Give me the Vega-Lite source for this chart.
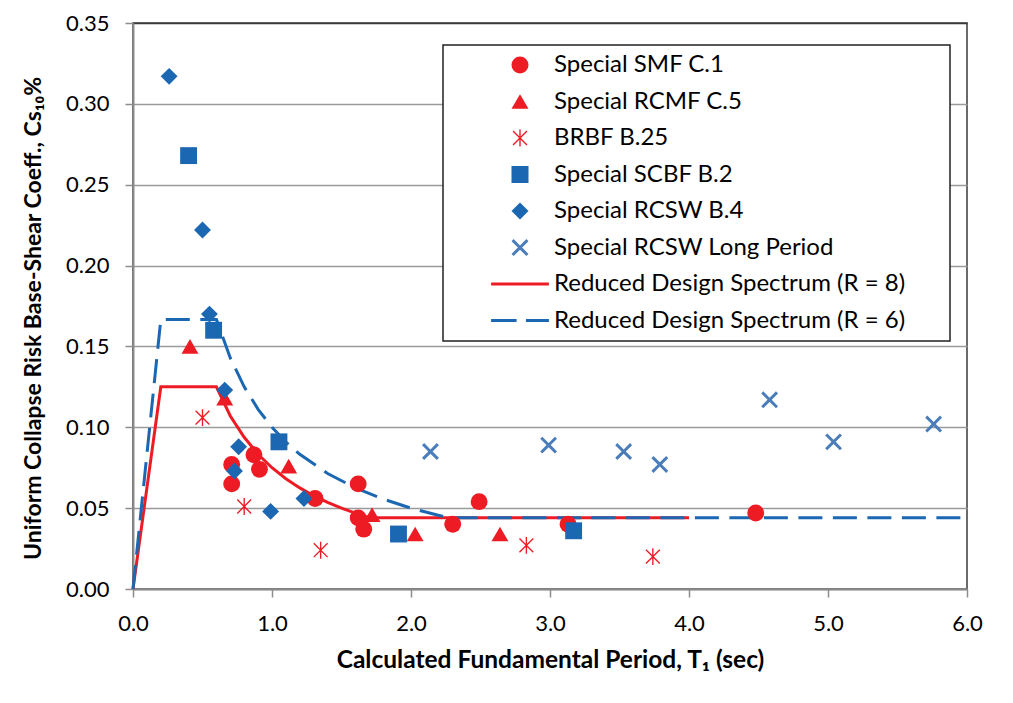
{
  "$schema": "https://vega.github.io/schema/vega-lite/v6.json",
  "width": 834,
  "height": 566,
  "autosize": "none",
  "padding": {"left": 133, "top": 23, "right": 46, "bottom": 114},
  "background": "white",
  "config": {
    "font": "Lato",
    "view": {"stroke": "#3a3a3a", "strokeWidth": 1.5},
    "axis": {
      "labelFont": "Lato",
      "labelFontSize": 22,
      "labelColor": "#000000",
      "labelPadding": 16,
      "labelFlush": false,
      "labelOverlap": false,
      "domainColor": "#8c8c8c",
      "domainWidth": 2,
      "tickColor": "#8c8c8c",
      "tickWidth": 1.5,
      "tickSize": 8,
      "titleFont": "Lato",
      "titleFontWeight": "bold",
      "titleColor": "#000000"
    }
  },
  "datasets": {
    "spectrum": [
      {"series": "Reduced Design Spectrum (R = 8)", "T": 0, "Cs": 0},
      {"series": "Reduced Design Spectrum (R = 8)", "T": 0.2, "Cs": 0.125},
      {"series": "Reduced Design Spectrum (R = 8)", "T": 0.6, "Cs": 0.125},
      {"series": "Reduced Design Spectrum (R = 8)", "T": 0.7, "Cs": 0.107},
      {"series": "Reduced Design Spectrum (R = 8)", "T": 0.8, "Cs": 0.0938},
      {"series": "Reduced Design Spectrum (R = 8)", "T": 0.9, "Cs": 0.0833},
      {"series": "Reduced Design Spectrum (R = 8)", "T": 1.0, "Cs": 0.075},
      {"series": "Reduced Design Spectrum (R = 8)", "T": 1.1, "Cs": 0.0682},
      {"series": "Reduced Design Spectrum (R = 8)", "T": 1.2, "Cs": 0.0625},
      {"series": "Reduced Design Spectrum (R = 8)", "T": 1.3, "Cs": 0.0577},
      {"series": "Reduced Design Spectrum (R = 8)", "T": 1.4, "Cs": 0.0536},
      {"series": "Reduced Design Spectrum (R = 8)", "T": 1.5, "Cs": 0.05},
      {"series": "Reduced Design Spectrum (R = 8)", "T": 1.6, "Cs": 0.0469},
      {"series": "Reduced Design Spectrum (R = 8)", "T": 1.705, "Cs": 0.044},
      {"series": "Reduced Design Spectrum (R = 8)", "T": 4.0, "Cs": 0.044},
      {"series": "Reduced Design Spectrum (R = 6)", "T": 0, "Cs": 0},
      {"series": "Reduced Design Spectrum (R = 6)", "T": 0.2, "Cs": 0.1667},
      {"series": "Reduced Design Spectrum (R = 6)", "T": 0.6, "Cs": 0.1667},
      {"series": "Reduced Design Spectrum (R = 6)", "T": 0.7, "Cs": 0.1429},
      {"series": "Reduced Design Spectrum (R = 6)", "T": 0.8, "Cs": 0.125},
      {"series": "Reduced Design Spectrum (R = 6)", "T": 0.9, "Cs": 0.1111},
      {"series": "Reduced Design Spectrum (R = 6)", "T": 1.0, "Cs": 0.1},
      {"series": "Reduced Design Spectrum (R = 6)", "T": 1.1, "Cs": 0.0909},
      {"series": "Reduced Design Spectrum (R = 6)", "T": 1.2, "Cs": 0.0833},
      {"series": "Reduced Design Spectrum (R = 6)", "T": 1.4, "Cs": 0.0714},
      {"series": "Reduced Design Spectrum (R = 6)", "T": 1.6, "Cs": 0.0625},
      {"series": "Reduced Design Spectrum (R = 6)", "T": 1.8, "Cs": 0.0556},
      {"series": "Reduced Design Spectrum (R = 6)", "T": 2.0, "Cs": 0.05},
      {"series": "Reduced Design Spectrum (R = 6)", "T": 2.27, "Cs": 0.044},
      {"series": "Reduced Design Spectrum (R = 6)", "T": 6.0, "Cs": 0.044}
    ],
    "points": [
      {"series": "Special SMF C.1", "T": 0.71, "Cs": 0.077},
      {"series": "Special SMF C.1", "T": 0.71, "Cs": 0.065},
      {"series": "Special SMF C.1", "T": 0.87, "Cs": 0.083},
      {"series": "Special SMF C.1", "T": 0.91, "Cs": 0.074},
      {"series": "Special SMF C.1", "T": 1.31, "Cs": 0.056},
      {"series": "Special SMF C.1", "T": 1.62, "Cs": 0.065},
      {"series": "Special SMF C.1", "T": 1.62, "Cs": 0.044},
      {"series": "Special SMF C.1", "T": 1.66, "Cs": 0.037},
      {"series": "Special SMF C.1", "T": 2.30, "Cs": 0.040},
      {"series": "Special SMF C.1", "T": 2.49, "Cs": 0.054},
      {"series": "Special SMF C.1", "T": 3.13, "Cs": 0.040},
      {"series": "Special SMF C.1", "T": 4.48, "Cs": 0.047},
      {"series": "Special RCMF C.5", "T": 0.41, "Cs": 0.150},
      {"series": "Special RCMF C.5", "T": 0.66, "Cs": 0.118},
      {"series": "Special RCMF C.5", "T": 1.12, "Cs": 0.076},
      {"series": "Special RCMF C.5", "T": 1.72, "Cs": 0.046},
      {"series": "Special RCMF C.5", "T": 2.03, "Cs": 0.034},
      {"series": "Special RCMF C.5", "T": 2.64, "Cs": 0.034},
      {"series": "BRBF B.25", "T": 0.50, "Cs": 0.106},
      {"series": "BRBF B.25", "T": 0.80, "Cs": 0.051},
      {"series": "BRBF B.25", "T": 1.35, "Cs": 0.024},
      {"series": "BRBF B.25", "T": 2.83, "Cs": 0.027},
      {"series": "BRBF B.25", "T": 3.74, "Cs": 0.020},
      {"series": "Special SCBF B.2", "T": 0.40, "Cs": 0.268},
      {"series": "Special SCBF B.2", "T": 0.58, "Cs": 0.160},
      {"series": "Special SCBF B.2", "T": 1.05, "Cs": 0.091},
      {"series": "Special SCBF B.2", "T": 1.91, "Cs": 0.034},
      {"series": "Special SCBF B.2", "T": 3.17, "Cs": 0.036},
      {"series": "Special RCSW B.4", "T": 0.26, "Cs": 0.317},
      {"series": "Special RCSW B.4", "T": 0.50, "Cs": 0.222},
      {"series": "Special RCSW B.4", "T": 0.55, "Cs": 0.170},
      {"series": "Special RCSW B.4", "T": 0.66, "Cs": 0.123},
      {"series": "Special RCSW B.4", "T": 0.76, "Cs": 0.088},
      {"series": "Special RCSW B.4", "T": 0.73, "Cs": 0.073},
      {"series": "Special RCSW B.4", "T": 0.99, "Cs": 0.048},
      {"series": "Special RCSW B.4", "T": 1.23, "Cs": 0.056},
      {"series": "Special RCSW Long Period", "T": 2.14, "Cs": 0.085},
      {"series": "Special RCSW Long Period", "T": 2.99, "Cs": 0.089},
      {"series": "Special RCSW Long Period", "T": 3.53, "Cs": 0.085},
      {"series": "Special RCSW Long Period", "T": 3.79, "Cs": 0.077},
      {"series": "Special RCSW Long Period", "T": 4.58, "Cs": 0.117},
      {"series": "Special RCSW Long Period", "T": 5.04, "Cs": 0.091},
      {"series": "Special RCSW Long Period", "T": 5.76, "Cs": 0.102}
    ]
  },
  "encoding": {
    "x": {
      "field": "T",
      "type": "quantitative",
      "scale": {"domain": [0, 6], "nice": false, "zero": false},
      "axis": {
        "values": [0, 1, 2, 3, 4, 5, 6],
        "format": ".1f",
        "grid": false,
        "title": "Calculated Fundamental Period, T₁ (sec)",
        "titleFontSize": 24.5,
        "titlePadding": 14
      }
    },
    "y": {
      "field": "Cs",
      "type": "quantitative",
      "scale": {"domain": [0, 0.35], "nice": false},
      "axis": {
        "values": [0, 0.05, 0.1, 0.15, 0.2, 0.25, 0.3, 0.35],
        "format": ".2f",
        "grid": true,
        "gridColor": {"condition": {"test": "datum.value > 0.349", "value": "#3a3a3a"}, "value": "#9a9a9a"},
        "gridWidth": 1.5,
        "title": "Uniform Collapse Risk Base-Shear  Coeff., Cs₁₀%",
        "titleFontSize": 23,
        "titlePadding": 20,
        "titleY": 295
      }
    },
    "color": {
      "field": "series",
      "type": "nominal",
      "scale": {
        "domain": ["Special SMF C.1", "Special RCMF C.5", "BRBF B.25", "Special SCBF B.2", "Special RCSW B.4", "Special RCSW Long Period", "Reduced Design Spectrum (R = 8)", "Reduced Design Spectrum (R = 6)"],
        "range": ["#ED1C24", "#ED1C24", "#ED1C24", "#1B67B2", "#1B67B2", "#4A7DBA", "#ED1C24", "#1B67B2"]
      },
      "legend": {
        "title": null,
        "orient": "none",
        "legendX": 310,
        "legendY": 22,
        "padding": 8,
        "fillColor": "white",
        "strokeColor": "#222222",
        "symbolSize": 289,
        "symbolStrokeWidth": 0,
        "symbolOffset": 57,
        "labelOffset": 22,
        "labelFont": "Lato",
        "labelFontSize": 24,
        "labelColor": "#000000",
        "labelLimit": 600,
        "rowPadding": 12.5,
        "labelExpr": "datum.label + '\u2800\u2800'",
        "encode": {
          "legend": {"update": {"strokeWidth": {"value": 1.5}}},
          "symbols": {
            "update": {
              "shape": {"value": {"expr": "scale('shape', datum.value)"}},
              "size": {"value": 289},
              "strokeWidth": {"value": 0},
              "fill": {"value": {"expr": "scale('color', datum.value)"}},
              "opacity": {"value": 1}
            }
          }
        }
      }
    }
  },
  "layer": [
    {
      "data": {"name": "spectrum"},
      "transform": [{"filter": "datum.series === 'Reduced Design Spectrum (R = 8)'"}],
      "mark": {"type": "line", "strokeWidth": 3}
    },
    {
      "data": {"name": "spectrum"},
      "transform": [{"filter": "datum.series === 'Reduced Design Spectrum (R = 6)'"}],
      "mark": {"type": "line", "strokeWidth": 3, "strokeDash": [24, 10.5]}
    },
    {
      "data": {"name": "points"},
      "mark": {"type": "point", "filled": true, "opacity": 1, "size": 285},
      "encoding": {
        "shape": {
          "field": "series",
          "type": "nominal",
          "scale": {
            "domain": ["Special SMF C.1", "Special RCMF C.5", "BRBF B.25", "Special SCBF B.2", "Special RCSW B.4", "Special RCSW Long Period", "Reduced Design Spectrum (R = 8)", "Reduced Design Spectrum (R = 6)"],
            "range": ["circle", "triangle-up", "M-0.08,-1L0.08,-1L0.08,1L-0.08,1ZM-0.877,-0.763L-0.763,-0.877L0.877,0.763L0.763,0.877ZM-0.763,0.877L-0.877,0.763L0.763,-0.877L0.877,-0.763Z", "square", "diamond", "M-1,-0.75L-0.75,-1L0,-0.25L0.75,-1L1,-0.75L0.25,0L1,0.75L0.75,1L0,0.25L-0.75,1L-1,0.75L-0.25,0Z", "M-3.4,-0.18L3.4,-0.18L3.4,0.18L-3.4,0.18Z", "M-3.4,-0.18L-0.4,-0.18L-0.4,0.18L-3.4,0.18ZM0.7,-0.18L3.4,-0.18L3.4,0.18L0.7,0.18Z"]
          },
          "legend": null
        }
      }
    }
  ]
}
